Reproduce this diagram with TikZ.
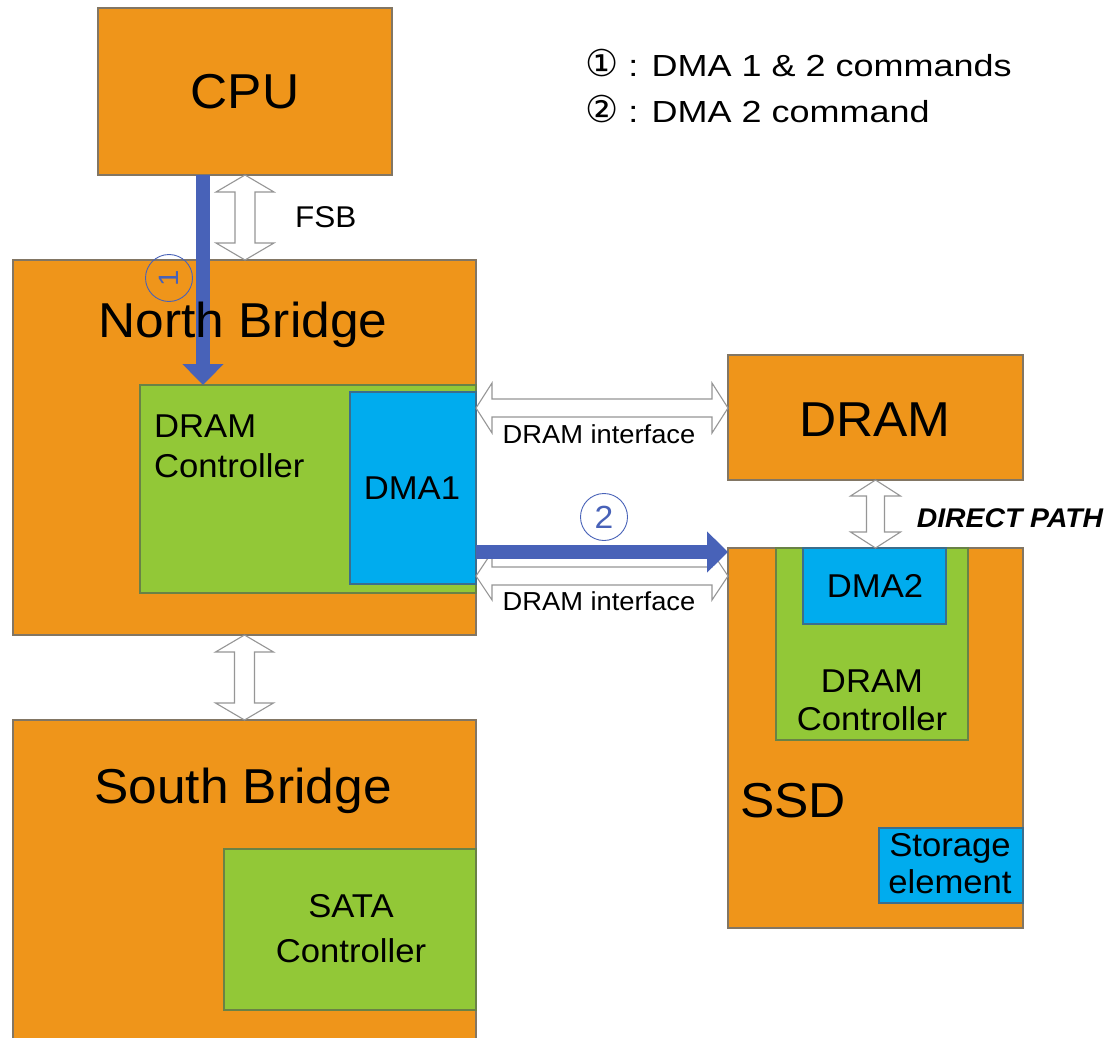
\documentclass[tikz,border=0pt]{standalone}
\usepackage{fontspec}
\setmainfont{Liberation Sans}[FakeStretch=1.05]
\newfontfamily\legfont{Liberation Sans}[FakeStretch=1.18]
\newfontfamily\circfont{DejaVu Sans}
\usetikzlibrary{calc,arrows.meta}
\definecolor{orng}{RGB}{239,149,26}
\definecolor{grn}{RGB}{146,200,55}
\definecolor{blu}{RGB}{0,172,238}
\definecolor{arrblue}{RGB}{72,98,184}
\definecolor{oline}{RGB}{130,118,100}
\definecolor{gline}{RGB}{105,130,70}
\definecolor{bline}{RGB}{60,110,140}
\definecolor{hline}{RGB}{150,150,150}
\tikzset{
  basebox/.style={line width=1.2pt, inner sep=0pt, outer sep=0pt, anchor=north west},
  obox/.style={basebox, draw=oline, fill=orng},
  gbox/.style={basebox, draw=gline, fill=grn},
  bbox/.style={basebox, draw=bline, fill=blu},
  hollow/.style={draw=hline, fill=white, line width=1.1pt, line join=miter},
  bluearr/.style={draw=arrblue, line width=14pt, -{Triangle[width=40pt,length=21pt]}},
  bigtxt/.style={font=\fontsize{49}{55}\selectfont, inner sep=0pt, anchor=base},
  midtxt/.style={font=\fontsize{33}{38}\selectfont, inner sep=0pt, anchor=base},
  smalltxt/.style={font=\fontsize{26}{30}\selectfont, inner sep=0pt, anchor=base},
  legtxt/.style={font=\legfont\fontsize{30.5}{34}\selectfont, inner sep=0pt, anchor=base west},
  numcirc/.style={circle, draw=arrblue, line width=0.9pt, minimum size=47pt, inner sep=0pt},
}
% vertical hollow double arrow: top tip, bottom tip, shaft half, head half, head length
\newcommand{\vhollow}[5]{%
  \draw[hollow] (#1) -- ($(#1)+(#4,#5)$) -- ($(#1)+(#3,#5)$) -- ($(#2)+(#3,-#5)$)
    -- ($(#2)+(#4,-#5)$) -- (#2) -- ($(#2)+(-#4,-#5)$) -- ($(#2)+(-#3,-#5)$)
    -- ($(#1)+(-#3,#5)$) -- ($(#1)+(-#4,#5)$) -- cycle;}
% horizontal hollow double arrow: left tip, right tip, shaft half, head half, head length
\newcommand{\hhollow}[5]{%
  \draw[hollow] (#1) -- ($(#1)+(#5,#4)$) -- ($(#1)+(#5,#3)$) -- ($(#2)+(-#5,#3)$)
    -- ($(#2)+(-#5,#4)$) -- (#2) -- ($(#2)+(-#5,-#4)$) -- ($(#2)+(-#5,-#3)$)
    -- ($(#1)+(#5,-#3)$) -- ($(#1)+(#5,-#4)$) -- cycle;}
\begin{document}
\begin{tikzpicture}[x=1pt,y=-1pt]
\clip (0,0) rectangle (1109,1038);
\fill[white] (0,0) rectangle (1109,1038);

% boxes
\node[obox, minimum width=294pt, minimum height=167pt] (cpu) at (98,8) {};
\node[obox, minimum width=463pt, minimum height=375pt] (nb) at (13,260) {};
\node[gbox, minimum width=336pt, minimum height=208pt] (dramc) at (140,385) {};
\node[bbox, minimum width=126pt, minimum height=192pt] (dma1) at (350,392) {};
\node[obox, minimum width=295pt, minimum height=125pt] (dram) at (728,355) {};
\node[obox, minimum width=295pt, minimum height=380pt] (ssd) at (728,548) {};
\node[gbox, minimum width=192pt, minimum height=192pt] (ssdc) at (776,548) {};
\node[bbox, minimum width=143pt, minimum height=76pt] (dma2) at (803,548) {};
\node[bbox, minimum width=144pt, minimum height=75pt] (stor) at (879,828) {};
\node[obox, minimum width=463pt, minimum height=340pt] (sb) at (13,720) {};
\node[gbox, minimum width=252pt, minimum height=161pt] (sata) at (224,849) {};

% helper coordinates
\coordinate (c1) at (203,0);
\coordinate (c2) at (0,552);
\coordinate (ifu) at (0,408);
\coordinate (ifl) at (0,576);

% hollow double arrows
\vhollow{cpu.south}{cpu.south |- nb.north}{10}{29}{17}
\vhollow{nb.south}{nb.south |- sb.north}{10}{29}{17}
\vhollow{dram.south}{dram.south |- ssd.north}{9}{25}{16}
\hhollow{nb.east |- ifu}{dram.west |- ifu}{9}{25}{16}
\hhollow{nb.east |- ifl}{dram.west |- ifl}{9}{24}{16}

% blue command arrows
\draw[bluearr] (cpu.south -| c1) -- (dramc.north -| c1);
\draw[bluearr] (dma1.east |- c2) -- (ssd.west |- c2);

% number circles
\node[numcirc] (n1) at (169,278) {};
\node[text=arrblue, inner sep=0pt, rotate=90, font=\fontsize{28}{30}\selectfont] (n1t) at (n1.center) {1};
\node[numcirc] (n2) at (604,517) {};
\node[text=arrblue, inner sep=0pt, font=\fontsize{32}{34}\selectfont] (n2t) at (n2.center) {2};

% texts
\node[bigtxt] (tcpu) at (245,109) {CPU};
\node[bigtxt] (tnb) at (243,337) {North Bridge};
\node[bigtxt] (tdram) at (875,436) {DRAM};
\node[bigtxt] (tsb) at (243,803) {South Bridge};
\node[bigtxt, anchor=base west] (tssd) at (740,817) {SSD};

\node[midtxt, anchor=base west] (tdc1) at (154,437) {DRAM};
\node[midtxt, anchor=base west] (tdc2) at (154,477) {Controller};
\node[midtxt] (tdma1) at (412,499) {DMA1};
\node[midtxt] (tdma2) at (875,597) {DMA2};
\node[midtxt] (tsc1) at (872,692) {DRAM};
\node[midtxt] (tsc2) at (872,730) {Controller};
\node[midtxt] (tst1) at (950,856) {Storage};
\node[midtxt] (tst2) at (950,893) {element};
\node[midtxt] (tsa1) at (351,917) {SATA};
\node[midtxt] (tsa2) at (351,962) {Controller};

\node[font=\fontsize{30}{34}\selectfont, inner sep=0pt, anchor=base west] (tfsb) at (295,227) {FSB};
\node[smalltxt] (tif1) at (599,443) {DRAM interface};
\node[smalltxt] (tif2) at (599,610) {DRAM interface};
\node[font=\bfseries\itshape\fontsize{27}{30}\selectfont, inner sep=0pt, anchor=base] (tdp) at (1010,527) {DIRECT PATH};

% legend
\node[legtxt] (leg1) at (585,77) {{\circfont\fontsize{37}{40}\selectfont ①} : DMA 1 \& 2 commands};
\node[legtxt] (leg2) at (585,123) {{\circfont\fontsize{37}{40}\selectfont ②} : DMA 2 command};
\end{tikzpicture}
\end{document}
